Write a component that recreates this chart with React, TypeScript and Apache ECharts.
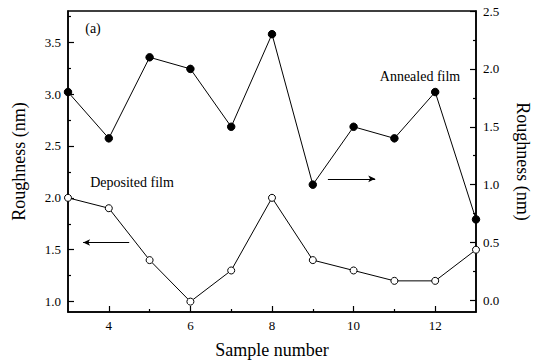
import React, { useEffect, useRef } from "react";
import * as echarts from "echarts";

const samples = [3, 4, 5, 6, 7, 8, 9, 10, 11, 12, 13];
const deposited = [2.0, 1.9, 1.4, 1.0, 1.3, 2.0, 1.4, 1.3, 1.2, 1.2, 1.5];
const annealed = [1.8, 1.4, 2.1, 2.0, 1.5, 2.3, 1.0, 1.5, 1.4, 1.8, 0.7];

const xMajor = [4, 6, 8, 10, 12];
const xMinor = [5, 7, 9, 11];
const leftMajor = [1.0, 1.5, 2.0, 2.5, 3.0, 3.5];
const leftMinor = [1.25, 1.75, 2.25, 2.75, 3.25, 3.75];
const rightMajor = [0.0, 0.5, 1.0, 1.5, 2.0, 2.5];
const rightMinor = [0.25, 0.75, 1.25, 1.75, 2.25];

const FONT = "Liberation Serif";

export default function App() {
  const ref = useRef<HTMLDivElement>(null);
  useEffect(() => {
    if (!ref.current) return;
    const chart = echarts.init(ref.current, null, { renderer: "svg" });
    const axisLine = { show: true, onZero: false, lineStyle: { color: "#000", width: 1.5 } };
    const lbl = { color: "#000", fontFamily: FONT, fontSize: 13, fontWeight: "normal" };
    const nameStyle = { color: "#000", fontFamily: FONT, fontSize: 18, fontWeight: "normal" };
    const tickStyle = { color: "#000", width: 1.2 };
    const option: any = {
      animation: false,
      backgroundColor: "#fff",
      textStyle: { fontFamily: FONT, color: "#000" },
      grid: {
        left: 68,
        right: 63,
        top: 11,
        bottom: 49,
        containLabel: false,
        outerBoundsMode: "none",
        show: true,
        borderColor: "#000",
        borderWidth: 1.5,
        backgroundColor: "transparent",
      },
      xAxis: [
        {
          type: "value",
          min: 3,
          max: 13,
          position: "bottom",
          axisLine,
          axisTick: { show: true, inside: true, length: 6, customValues: xMajor, lineStyle: tickStyle },
          axisLabel: { ...lbl, customValues: xMajor, margin: 7 },
          splitLine: { show: false },
          name: "Sample number",
          nameLocation: "middle",
          nameGap: 29,
          nameTextStyle: nameStyle,
        },
        {
          type: "value",
          min: 3,
          max: 13,
          position: "bottom",
          axisLine: { show: false, onZero: false },
          axisTick: { show: true, inside: true, length: 3, customValues: xMinor, lineStyle: tickStyle },
          axisLabel: { show: false },
          splitLine: { show: false },
        },
      ],
      yAxis: [
        {
          type: "value",
          min: 0.9,
          max: 3.8,
          position: "left",
          axisLine,
          axisTick: { show: true, inside: true, length: 6, customValues: leftMajor, lineStyle: tickStyle },
          axisLabel: { ...lbl, customValues: leftMajor, margin: 7, formatter: (v: number) => v.toFixed(1) },
          splitLine: { show: false },
          name: "Roughness (nm)",
          nameLocation: "middle",
          nameGap: 40,
          nameTextStyle: nameStyle,
        },
        {
          type: "value",
          min: 0.9,
          max: 3.8,
          position: "left",
          axisLine: { show: false, onZero: false },
          axisTick: { show: true, inside: true, length: 3, customValues: leftMinor, lineStyle: tickStyle },
          axisLabel: { show: false },
          splitLine: { show: false },
        },
        {
          type: "value",
          min: -0.1,
          max: 2.5,
          position: "right",
          axisLine,
          axisTick: { show: true, inside: true, length: 6, customValues: rightMajor, lineStyle: tickStyle },
          axisLabel: { ...lbl, customValues: rightMajor, margin: 7, formatter: (v: number) => v.toFixed(1) },
          splitLine: { show: false },
          name: "Roughness (nm)",
          nameLocation: "middle",
          nameGap: 38,
          nameRotate: -90,
          nameTextStyle: nameStyle,
        },
        {
          type: "value",
          min: -0.1,
          max: 2.5,
          position: "right",
          axisLine: { show: false, onZero: false },
          axisTick: { show: true, inside: true, length: 3, customValues: rightMinor, lineStyle: tickStyle },
          axisLabel: { show: false },
          splitLine: { show: false },
        },
      ],
      series: [
        {
          name: "Deposited film",
          type: "line",
          xAxisIndex: 0,
          yAxisIndex: 0,
          data: samples.map((s, i) => [s, deposited[i]]),
          symbol: "circle",
          symbolSize: 7,
          showAllSymbol: true,
          itemStyle: { color: "#fff", borderColor: "#000", borderWidth: 1 },
          lineStyle: { color: "#000", width: 1 },
          z: 3,
          markLine: {
            silent: true,
            symbol: ["none", "arrow"],
            symbolSize: [5, 7],
            label: { show: false },
            lineStyle: { color: "#000", width: 1, type: "solid" },
            data: [[{ coord: [4.5, 1.57] }, { coord: [3.37, 1.57] }]],
          },
        },
        {
          name: "Annealed film",
          type: "line",
          xAxisIndex: 0,
          yAxisIndex: 2,
          data: samples.map((s, i) => [s, annealed[i]]),
          symbol: "circle",
          symbolSize: 7.5,
          showAllSymbol: true,
          itemStyle: { color: "#000", borderColor: "#000", borderWidth: 1 },
          lineStyle: { color: "#000", width: 1 },
          z: 3,
          markLine: {
            silent: true,
            symbol: ["none", "arrow"],
            symbolSize: [5, 7],
            label: { show: false },
            lineStyle: { color: "#000", width: 1, type: "solid" },
            data: [[{ coord: [9.37, 1.05] }, { coord: [10.53, 1.05] }]],
          },
        },
      ],
      graphic: [
        {
          type: "text",
          x: 93,
          y: 28,
          style: { text: "(a)", fill: "#000", fontFamily: FONT, fontSize: 14, align: "center", verticalAlign: "middle" },
        },
        {
          type: "text",
          x: 420,
          y: 76,
          style: { text: "Annealed film", fill: "#000", fontFamily: FONT, fontSize: 14, align: "center", verticalAlign: "middle" },
        },
        {
          type: "text",
          x: 132,
          y: 182,
          style: { text: "Deposited film", fill: "#000", fontFamily: FONT, fontSize: 14, align: "center", verticalAlign: "middle" },
        },
      ],
    };
    chart.setOption(option);
    return () => chart.dispose();
  }, []);
  return <div ref={ref} style={{ position: "fixed", left: 0, top: 0, width: 539, height: 361 }} />;
}
